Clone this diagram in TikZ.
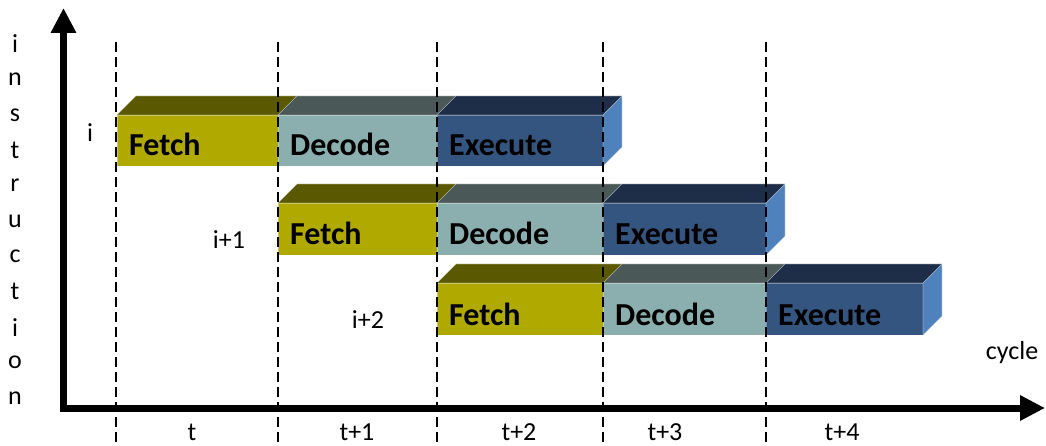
\documentclass[tikz,border=0pt]{standalone}
\usepackage{fontspec}
\setmainfont{Carlito}
\usetikzlibrary{arrows.meta}

% stage colours: front face, top face, side face
\definecolor{fetchF}{RGB}{176,170,0}
\definecolor{fetchT}{RGB}{90,88,0}
\definecolor{decodeF}{RGB}{139,175,174}
\definecolor{decodeT}{RGB}{74,89,87}
\definecolor{execF}{RGB}{52,85,127}
\definecolor{execT}{RGB}{30,46,72}
\definecolor{execS}{RGB}{79,129,189}

\tikzset{
  gridline/.style={line width=2.3pt, dash pattern=on 10pt off 5pt},
  axisline/.style={line width=7pt, line join=miter,
    {Triangle[length=25pt,width=24pt]}-{Triangle[length=25pt,width=24pt]}},
  stagelabel/.style={font=\fontsize{32}{32}\selectfont\bfseries,
    anchor=base west, inner sep=0pt},
  smalllabel/.style={font=\fontsize{26}{26}\selectfont, inner sep=0pt},
  faceedge/.style={draw=white, draw opacity=0.35, line width=0.6pt},
}

% one pipeline stage as a block: #1,#2 left/right x, #3,#4 front top/bottom y,
% #5 front colour, #6 top colour, #7 text, #8 node name
\newcommand\pipestage[8]{%
  \fill[#6, faceedge] (#1,#3) -- (#1+19,#3-19) -- (#2+19,#3-19) -- (#2,#3) -- cycle;
  \fill[#5, faceedge] (#1,#3) rectangle (#2,#4);
  \node[stagelabel] (#8) at (#1+12,#4-10) {#7};
}
% visible right side of the last block in a row
\newcommand\pipeside[3]{%
  \fill[execS, faceedge] (#1,#2) -- (#1+19,#2-19) -- (#1+19,#3-19) -- (#1,#3) -- cycle;
}

\begin{document}
\begin{tikzpicture}[x=1pt, y=-1pt]
  \useasboundingbox (0,0) rectangle (1046,446);

  % instruction i
  \pipestage{117}{278}{115}{166}{fetchF}{fetchT}{Fetch}{f1}
  \pipestage{278}{437}{115}{166}{decodeF}{decodeT}{Decode}{d1}
  \pipestage{437}{603}{115}{166}{execF}{execT}{Execute}{e1}
  \pipeside{603}{115}{166}
  % instruction i+1
  \pipestage{278}{437}{203}{255}{fetchF}{fetchT}{Fetch}{f2}
  \pipestage{437}{603}{203}{255}{decodeF}{decodeT}{Decode}{d2}
  \pipestage{603}{766}{203}{255}{execF}{execT}{Execute}{e2}
  \pipeside{766}{203}{255}
  % instruction i+2
  \pipestage{437}{603}{283}{335}{fetchF}{fetchT}{Fetch}{f3}
  \pipestage{603}{766}{283}{335}{decodeF}{decodeT}{Decode}{d3}
  \pipestage{766}{923}{283}{335}{execF}{execT}{Execute}{e3}
  \pipeside{923}{283}{335}

  % cycle boundaries
  \foreach \xx/\nm in {116/b0, 278/b1, 437/b2, 603/b3, 766/b4} {
    \coordinate (\nm top) at (\xx,42);
    \coordinate (\nm bot) at (\xx,444);
    \draw[gridline] (\nm top) -- (\nm bot);
  }

  % axes
  \coordinate (ytip) at (63.5,8);
  \coordinate (origin) at (63.5,408);
  \coordinate (xtip) at (1045,408);
  \draw[axisline] (ytip) -- (origin) -- (xtip);

  % vertical axis title
  \foreach \ch [count=\k from 0] in {i,n,s,t,r,u,c,t,i,o,n} {
    \node[smalllabel] (ttl\k) at (15,44+35.4*\k) {\ch};
  }

  % instruction names
  \node[smalllabel] (ins1) at (90,133) {i};
  \node[smalllabel] (ins2) at (229,240) {i+1};
  \node[smalllabel] (ins3) at (368,320) {i+2};

  % cycle names
  \node[smalllabel] (cyc) at (1012,353) {cycle};
  \node[smalllabel] (c0) at (192,432) {t};
  \node[smalllabel] (c1) at (357,432) {t+1};
  \node[smalllabel] (c2) at (519,432) {t+2};
  \node[smalllabel] (c3) at (665,432) {t+3};
  \node[smalllabel] (c4) at (842,432) {t+4};
\end{tikzpicture}
\end{document}
